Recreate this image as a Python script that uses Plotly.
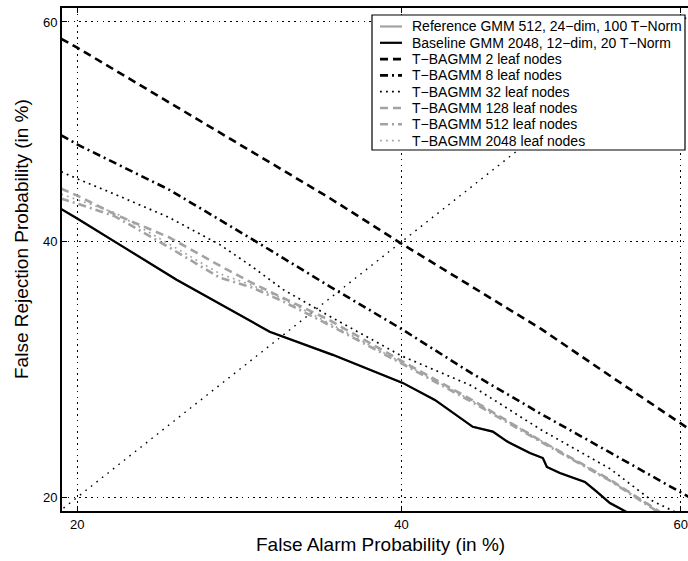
from statistics import NormalDist
import plotly.graph_objects as go

# ---------------- data (percent) ----------------
# reference curve is not distinguishable in the picture: it lies under the baseline curve
x_ref = [19.2, 20.0, 22.22, 25.42, 31.12, 33.07, 35.27, 40.09, 42.36, 45.07, 46.51, 47.53,
         49.19, 50.13, 50.42, 51.36, 52.3, 53.17, 54.04, 54.97, 56.05, 56.5]
y_ref = [42.95, 42.1, 39.76, 36.68, 32.27, 31.35, 30.38, 28.16, 26.85, 24.85, 24.5, 23.8,
         22.98, 22.63, 22.01, 21.6, 21.27, 21.0, 20.35, 19.63, 19.12, 18.9]

x_base = [19.2, 20.0, 22.22, 25.42, 31.12, 33.07, 35.27, 40.09, 42.36, 45.07, 46.51, 47.53,
          49.19, 50.13, 50.42, 51.36, 52.3, 53.17, 54.04, 54.97, 56.05, 56.5]
y_base = [42.95, 42.1, 39.76, 36.68, 32.27, 31.35, 30.38, 28.16, 26.85, 24.85, 24.5, 23.8,
          22.98, 22.63, 22.01, 21.6, 21.27, 21.0, 20.35, 19.63, 19.12, 18.9]

x_l2 = [19.2, 20, 25, 30, 35, 40, 45, 50, 55, 60, 61]
y_l2 = [58.5, 57.7, 52.7, 48.2, 44.0, 39.85, 36.1, 32.5, 28.7, 25.1, 24.4]

x_l8 = [19.2, 20, 25, 30, 35, 40, 45, 50, 55, 60, 61]
y_l8 = [49.7, 48.85, 44.7, 40.25, 36.15, 32.5, 28.9, 25.8, 23.0, 20.3, 19.8]

x_l32 = [19.2, 20, 22, 25, 28, 30, 32, 35, 40, 45, 50, 55, 58, 59, 60]
y_l32 = [46.35, 45.7, 44.27, 42.18, 39.76, 37.82, 35.82, 33.6, 30.3, 27.93, 24.63, 21.88, 19.77, 19.32, 18.9]

x_l128 = [19.2, 20, 22, 25, 28, 30, 32, 35, 40, 45, 50, 55, 58, 59]
y_l128 = [44.8, 44.17, 42.45, 40.4, 37.9, 36.4, 35.1, 33.27, 29.9, 26.86, 23.83, 21.14, 19.38, 18.8]

x_l512 = [19.2, 20, 22, 25, 28, 30, 32, 35, 40, 45, 50, 55, 58, 59]
y_l512 = [43.9, 43.45, 42.27, 39.5, 36.85, 36.0, 34.8, 32.85, 29.7, 26.7, 23.76, 21.07, 19.3, 18.7]

x_l2048 = [19.2, 20, 22, 25, 28, 30, 32, 35, 40, 45, 50, 55, 58, 59]
y_l2048 = [44.3, 43.8, 42.6, 39.8, 37.2, 36.2, 35.0, 33.0, 29.8, 26.8, 23.85, 21.1, 19.35, 18.75]

eer = [18.5, 61.5]

tick_pct = [20, 40, 60]
tick_text = ["20", "40", "60"]

names = [
    "Reference GMM 512, 24\u2212dim, 100 T\u2212Norm",
    "Baseline GMM 2048, 12\u2212dim, 20 T\u2212Norm",
    "T\u2212BAGMM 2 leaf nodes",
    "T\u2212BAGMM 8 leaf nodes",
    "T\u2212BAGMM 32 leaf nodes",
    "T\u2212BAGMM 128 leaf nodes",
    "T\u2212BAGMM 512 leaf nodes",
    "T\u2212BAGMM 2048 leaf nodes",
]

nd = NormalDist()


def probit(p):
    return nd.inv_cdf(p / 100.0)


GRAY = "#a3a3a3"
DASH = "8px,5px"
DASHDOT = "8px,4px,2px,4px"
DOT = "1.8px,4.2px"
series = [
    (names[0], x_ref, y_ref, GRAY, 2.2, "solid"),
    (names[1], x_base, y_base, "black", 2.2, "solid"),
    (names[2], x_l2, y_l2, "black", 2.6, DASH),
    (names[3], x_l8, y_l8, "black", 2.6, DASHDOT),
    (names[4], x_l32, y_l32, "black", 1.7, DOT),
    (names[5], x_l128, y_l128, GRAY, 2.6, DASH),
    (names[6], x_l512, y_l512, GRAY, 2.6, DASHDOT),
    (names[7], x_l2048, y_l2048, GRAY, 1.7, DOT),
]

FONT = "Liberation Sans, Arial, Helvetica, sans-serif"

fig = go.Figure()

# EER diagonal
fig.add_trace(go.Scatter(x=[probit(v) for v in eer], y=[probit(v) for v in eer], mode="lines",
                         line=dict(color="black", width=1.4, dash="1.6px,5.4px"),
                         showlegend=False, hoverinfo="skip"))

for name, xs, ys, col, w, d in series:
    fig.add_trace(go.Scatter(x=[probit(v) for v in xs], y=[probit(v) for v in ys], mode="lines",
                             name=name, line=dict(color=col, width=w, dash=d),
                             showlegend=False, hoverinfo="skip"))

# ---------------- layout ----------------
W, H = 688, 561
L, R, T, B = 62, 0, 8, 50
pw, ph = W - L - R, H - T - B


def px_x(p):
    return (p - L) / pw


def px_y(p):
    return (H - B - p) / ph


axis_common = dict(
    tickmode="array",
    tickvals=[probit(v) for v in tick_pct],
    ticktext=tick_text,
    ticks="inside",
    ticklen=5,
    tickwidth=1.2,
    tickcolor="black",
    showline=True,
    linecolor="black",
    linewidth=1.8,
    showgrid=True,
    gridcolor="black",
    gridwidth=1.3,
    griddash="1.6px,4.2px",
    zeroline=False,
    tickfont=dict(family=FONT, size=13, color="black"),
)

fig.update_xaxes(range=[-0.8692, 0.2666], mirror="ticks", **axis_common)
fig.update_yaxes(range=[-0.8732, 0.2855], mirror=False, **axis_common)

shapes = []
annotations = []

# legend box
shapes.append(dict(type="rect", xref="paper", yref="paper", x0=px_x(372), x1=px_x(685),
                   y0=px_y(150), y1=px_y(15), fillcolor="white",
                   line=dict(color="black", width=1.2), layer="above"))
row0, rstep = 26.5, 16.3
for i, (name, xs, ys, col, w, d) in enumerate(series):
    yy = px_y(row0 + i * rstep)
    shapes.append(dict(type="line", xref="paper", yref="paper", x0=px_x(380), x1=px_x(402),
                       y0=yy, y1=yy, line=dict(color=col, width=w, dash=d), layer="above"))
    annotations.append(dict(text=name, xref="paper", yref="paper", x=px_x(410), y=yy,
                            xanchor="left", yanchor="middle", showarrow=False,
                            font=dict(family=FONT, size=14, color="black")))

# axis titles
annotations.append(dict(text="False Alarm Probability (in %)", xref="paper", yref="paper",
                        x=px_x(380.5), y=px_y(544), xanchor="center", yanchor="middle",
                        showarrow=False, font=dict(family=FONT, size=19, color="black")))
annotations.append(dict(text="False Rejection Probability (in %)", xref="paper", yref="paper",
                        x=px_x(21), y=px_y(239), xanchor="center", yanchor="middle",
                        textangle=-90, showarrow=False,
                        font=dict(family=FONT, size=19, color="black")))

fig.update_layout(
    width=W, height=H,
    margin=dict(l=L, r=R, t=T, b=B, pad=0),
    paper_bgcolor="white",
    plot_bgcolor="white",
    showlegend=False,
    shapes=shapes,
    annotations=annotations,
    font=dict(family=FONT, color="black"),
)

fig.write_html("out.html")
